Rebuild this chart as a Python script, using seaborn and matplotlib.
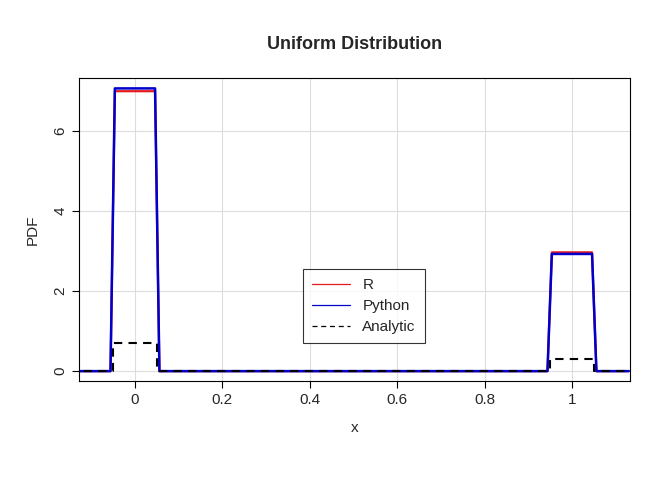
import matplotlib
matplotlib.use("Agg")
import matplotlib.pyplot as plt
import seaborn as sns
import pandas as pd

x_r = [-0.13, -0.056, -0.046, 0.046, 0.056, 0.944, 0.954, 1.046, 1.056, 1.13]
y_r = [0, 0, 7.0, 7.0, 0, 0, 2.97, 2.97, 0, 0]
x_py = [-0.13, -0.056, -0.046, 0.046, 0.056, 0.944, 0.954, 1.046, 1.056, 1.13]
y_py = [0, 0, 7.07, 7.07, 0, 0, 2.93, 2.93, 0, 0]
x_an = [-0.15, -0.05, -0.05, 0.05, 0.05, 0.95, 0.95, 1.05, 1.05, 1.15]
y_an = [0, 0, 0.7, 0.7, 0, 0, 0.3, 0.3, 0, 0]
xticks = [0, 0.2, 0.4, 0.6, 0.8, 1]
xticklabels = ["0", "0.2", "0.4", "0.6", "0.8", "1"]
yticks = [0, 2, 4, 6]

sns.set_style("white")
plt.rcParams['font.family'] = ['Liberation Sans', 'DejaVu Sans']
fig = plt.figure(figsize=(6.72, 4.8), dpi=100)
ax = fig.add_axes([0.1176, 0.206, 0.82, 0.6315])

kw = dict(ax=ax, sort=False, estimator=None, errorbar=None)
sns.lineplot(x=x_r, y=y_r, color="#e41a1c", lw=1.6, label="R", **kw)
sns.lineplot(x=x_py, y=y_py, color="#0000cc", lw=1.8, label="Python", **kw)
sns.lineplot(x=x_an, y=y_an, color="black", lw=1.5, ls=(0, (4, 3)), label="Analytic", **kw)

ax.set_xlim(-0.128, 1.133)
ax.set_ylim(-0.25, 7.33)
ax.set_xticks(xticks)
ax.set_xticklabels(xticklabels)
ax.set_yticks(yticks)
ax.set_yticklabels([str(v) for v in yticks], rotation=90, va="center")
ax.grid(True, color="#dddddd", lw=0.8)
ax.set_axisbelow(True)
for s in ax.spines.values():
    s.set_color("black"); s.set_linewidth(0.8)
ax.tick_params(direction="out", length=5, width=0.8, color="black", labelsize=11, bottom=True, left=True)
ax.set_xlabel("x", fontsize=11, labelpad=10)
ax.set_ylabel("PDF", fontsize=11, labelpad=10)
ax.set_title("Uniform Distribution", fontsize=13, fontweight="bold", pad=21)

leg = ax.legend(loc="center left", bbox_to_anchor=(0.392, 0.247), fontsize=11, frameon=True, fancybox=False,
                edgecolor="black", handlelength=2.5, borderpad=0.6, labelspacing=0.45)
leg.get_frame().set_linewidth(0.8)
for h in leg.get_lines():
    h.set_linewidth(0.9)
fig.savefig("out.png", dpi=100)
